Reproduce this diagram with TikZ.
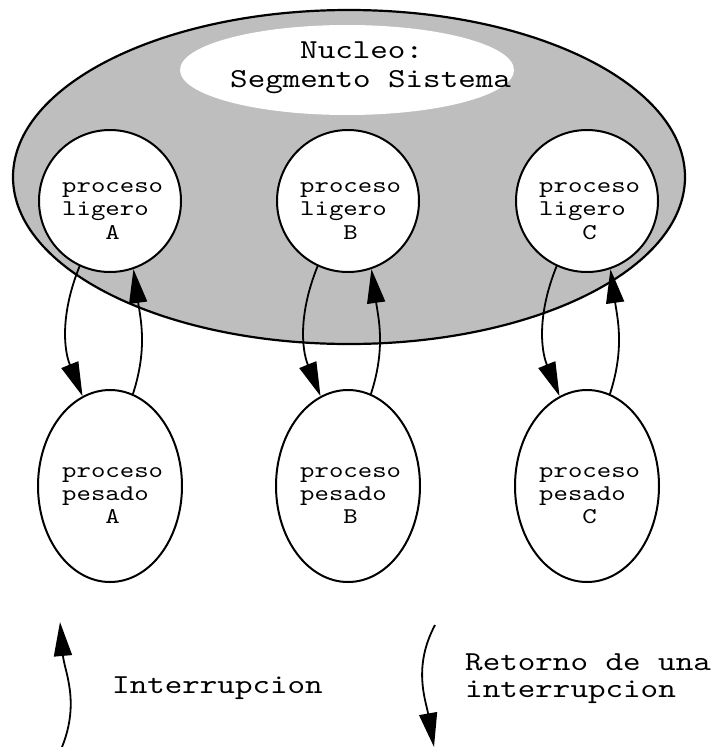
\documentclass[tikz,border=0pt]{standalone}
\usepackage{fontspec}
\newfontfamily\cour[FakeStretch=1.22]{lmmono10-regular.otf}
\usetikzlibrary{arrows.meta,shapes.geometric}
\definecolor{kgray}{RGB}{190,190,190}
\begin{document}
\begin{tikzpicture}[x=1pt,y=-1pt,
  outl/.style={draw=black,line width=2pt},
  lig/.style={circle,outl,fill=white,minimum size=142pt,inner sep=0pt},
  pes/.style={ellipse,outl,fill=white,minimum width=144pt,minimum height=192pt,inner sep=0pt},
  txt/.style={font=\cour\fontsize{22.5}{24}\selectfont,anchor=base west,inner sep=0pt},
  bigtxt/.style={font=\cour\fontsize{27.4}{30}\selectfont,anchor=base west,inner sep=0pt},
  arr/.style={line width=1.8pt,-{Triangle[length=34pt,width=18pt]}}]
\useasboundingbox (0,0) rectangle (714,747);
\node[ellipse,draw=black,line width=2.2pt,fill=kgray,minimum width=672pt,minimum height=334pt,inner sep=0pt] (nucleo) at (349,177) {};
\node[ellipse,fill=white,minimum width=334pt,minimum height=90pt,inner sep=0pt] (seg) at (347,70) {};
\node[bigtxt] (t1) at (300,58) {Nucleo:};
\node[bigtxt] (t2) at (230,87) {Segmento Sistema};
\foreach \n/\x in {A/110,B/348,C/587}{
  \node[lig] (l\n) at (\x,201) {};
  \node[pes] (p\n) at (\x,486) {};
  \node[txt] (la\n) at (\x-48,192) {proceso};
  \node[txt] (lb\n) at (\x-48,215) {ligero};
  \node[txt] (lc\n) at (\x-48,239) {\phantom{lig}\n};
  \node[txt] (pa\n) at (\x-48,477) {proceso};
  \node[txt] (pb\n) at (\x-48,500) {pesado};
  \node[txt] (pc\n) at (\x-48,523) {\phantom{lig}\n};
  \draw[arr] (l\n.245) to[out=-112,in=112] (p\n.107);
  \draw[arr] (p\n.76) to[out=72,in=-82] (l\n.289);
}
\coordinate (i1) at (62,747);
\coordinate (i2) at (60,622);
\draw[arr] (i1) to[out=68,in=-85] (i2);
\coordinate (r1) at (435,625);
\coordinate (r2) at (434,747);
\draw[arr] (r1) to[out=-118,in=100] (r2);
\node[bigtxt] (int) at (112,693) {Interrupcion};
\node[bigtxt] (ret1) at (465,670) {Retorno de una};
\node[bigtxt] (ret2) at (465,697) {interrupcion};
\end{tikzpicture}
\end{document}
